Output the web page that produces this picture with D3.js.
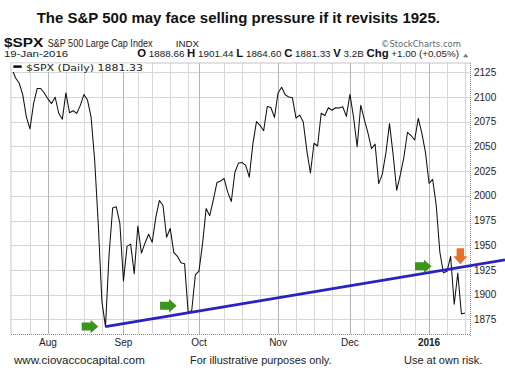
<!DOCTYPE html>
<html><head><meta charset="utf-8">
<script src="https://cdn.jsdelivr.net/npm/d3@7"></script>
<style>
html,body{margin:0;padding:0;background:#fff;}
svg{display:block;font-family:"Liberation Sans",Arial,sans-serif;}
</style>
</head><body>
<svg id="c" width="505" height="378"></svg>
<script>
// ---------- DATA ----------
const tradingMonths = [
  ["2015-07", [20,21,22,23,24,27,28,29,30,31]],
  ["2015-08", [3,4,5,6,7,10,11,12,13,14,17,18,19,20,21,24,25,26,27,28,31]],
  ["2015-09", [1,2,3,4,8,9,10,11,14,15,16,17,18,21,22,23,24,25,28,29,30]],
  ["2015-10", [1,2,5,6,7,8,9,12,13,14,15,16,19,20,21,22,23,26,27,28,29,30]],
  ["2015-11", [2,3,4,5,6,9,10,11,12,13,16,17,18,19,20,23,24,25,27,30]],
  ["2015-12", [1,2,3,4,7,8,9,10,11,14,15,16,17,18,21,22,23,24,28,29,30,31]],
  ["2016-01", [4,5,6,7,8,11,12,13,14,15,19]]
];
const closesJul = [2128.28,2119.21,2114.15,2102.15,2079.65,2067.64,2093.25,2108.57,2108.63,2103.84];
const closesAug = [2098.04,2093.32,2099.84,2083.56,2077.57,2104.18,2084.07,2086.05,2083.39,2091.54,2102.44,2096.92,2079.61,2035.73,1970.89,1893.21,1867.61,1940.51,1987.66,1988.87,1972.18];
const closesSep = [1913.85,1948.86,1951.13,1921.22,1969.41,1942.04,1952.29,1961.05,1953.03,1978.09,1995.31,1990.20,1958.03,1966.97,1942.74,1938.76,1932.24,1931.34,1881.77,1884.09,1920.03];
const closesOct = [1923.82,1951.36,1987.05,1979.92,1995.83,2013.43,2014.89,2017.46,2003.69,1994.24,2023.86,2033.11,2033.66,2030.77,2018.94,2052.51,2075.15,2071.18,2065.89,2090.35,2089.41,2079.36];
const closesNov = [2104.05,2109.79,2102.31,2099.93,2099.20,2078.58,2081.72,2075.00,2045.97,2023.04,2053.19,2050.44,2083.58,2081.24,2089.17,2086.59,2089.14,2088.87,2090.11,2080.41];
const closesDec = [2102.63,2079.51,2049.62,2091.69,2077.07,2063.59,2047.62,2052.23,2012.37,2021.94,2043.41,2073.07,2041.89,2005.55,2021.15,2038.97,2064.29,2060.99,2056.50,2078.36,2063.36,2043.94];
const closesJan = [2012.66,2016.71,1990.26,1943.09,1922.03,1923.67,1938.68,1890.28,1921.84,1880.33,1881.33];
const yTicks = [1875,1900,1925,1950,1975,2000,2025,2050,2075,2100,2125];
// trendline anchors (index of trading day, value)
const trendAnchors = [{i:26, v:1867.61}, {i:49, v:1881.6}];
// annotation arrows: tip position (trading-day index, value)
const greenArrows = [{i:24.0, v:1867.6}, {i:45.8, v:1888.7}, {i:116.7, v:1928.6}];
const orangeArrows = [{i:124.7, v:1930.7}];

const titleText = "The S&P 500 may face selling pressure if it revisits 1925.";
const footerTexts = ["www.ciovaccocapital.com", "For illustrative purposes only.", "Use at own risk."];

// ---------- BUILD ----------
const dates = tradingMonths.flatMap(([m, ds]) => ds.map(d => `${m}-${String(d).padStart(2,"0")}`));
const closes = [].concat(closesJul, closesAug, closesSep, closesOct, closesNov, closesDec, closesJan);
const parse = d3.timeParse("%Y-%m-%d");
const dd = dates.map(parse);
const series = closes.map((v,i) => ({i, v, d: dd[i]}));

const svg = d3.select("#c");
const L = 11, R = 470.5, T = 63, B = 334;
const x = d3.scaleLinear().domain([0, dates.length - 1]).range([12, 465]);
const y = d3.scaleLinear().domain([1875, 2125]).range([319.3, 72.3]);

// gridlines
const monthStarts = [], weekStarts = [];
dd.forEach((d, i) => {
  if (i === 0) return;
  if (d.getMonth() !== dd[i-1].getMonth()) monthStarts.push(i);
});
dd.forEach((d, i) => {
  if (i === 0) return;
  if (+d3.timeMonday.floor(d) !== +d3.timeMonday.floor(dd[i-1])) {
    if (!monthStarts.some(m => Math.abs(m - i) <= 2)) weekStarts.push(i);
  }
});
const g = svg.append("g");
g.selectAll(".hg").data(yTicks).join("line")
  .attr("x1", L).attr("x2", R).attr("y1", d => Math.round(y(d)) + 0.5).attr("y2", d => Math.round(y(d)) + 0.5)
  .attr("stroke", "#d6d6d6").attr("stroke-width", 1);
g.selectAll(".wg").data(weekStarts).join("line")
  .attr("x1", d => Math.round(x(d)) + 0.5).attr("x2", d => Math.round(x(d)) + 0.5).attr("y1", T).attr("y2", B)
  .attr("stroke", "#d8d8d8").attr("stroke-width", 1);
g.selectAll(".mg").data(monthStarts).join("line")
  .attr("x1", d => Math.round(x(d)) + 0.5).attr("x2", d => Math.round(x(d)) + 0.5).attr("y1", T).attr("y2", B)
  .attr("stroke", "#b4b4b4").attr("stroke-width", 1);

// frame
svg.append("line").attr("x1", L).attr("x2", L).attr("y1", T).attr("y2", B).attr("stroke", "#c4c4c4");
svg.append("line").attr("x1", L).attr("x2", R).attr("y1", T).attr("y2", T).attr("stroke", "#c4c4c4");
svg.append("line").attr("x1", R).attr("x2", R).attr("y1", T).attr("y2", B + 3)
  .attr("stroke", "#8a8a8a").attr("stroke-dasharray", "1,1");
svg.append("line").attr("x1", L).attr("x2", R).attr("y1", B + 0.5).attr("y2", B + 0.5)
  .attr("stroke", "#8a8a8a").attr("stroke-dasharray", "1,1");

// price line
svg.append("path").datum(series)
  .attr("d", d3.line().x(d => x(d.i)).y(d => y(d.v)))
  .attr("fill", "none").attr("stroke", "#111").attr("stroke-width", 1.05).attr("stroke-linejoin", "round");

// helper to fit text width
function fit(sel, x0, y0, W, anchor) {
  sel.attr("x", 0).attr("y", 0);
  const w = sel.node().getComputedTextLength();
  const s = W / w;
  sel.attr("transform", `translate(${x0},${y0}) scale(${s},1)`);
  if (anchor) sel.attr("text-anchor", anchor);
  return sel;
}

// legend
svg.append("rect").attr("x", L + 0.5).attr("y", T + 0.5).attr("width", 134).attr("height", 8.5).attr("fill", "#fff");
svg.append("line").attr("x1", 13.3).attr("x2", 21.7).attr("y1", 66.6).attr("y2", 66.6).attr("stroke", "#000").attr("stroke-width", 2.4);
fit(svg.append("text").text("$SPX (Daily) " + closes[closes.length-1].toFixed(2))
  .attr("font-family", "DejaVu Sans").attr("font-size", 9.5).attr("fill", "#222"), 26, 70.6, 117);

// trendline, extended to right edge
const slope = (trendAnchors[1].v - trendAnchors[0].v) / (trendAnchors[1].i - trendAnchors[0].i);
const iEnd = x.invert(505);
const trend = [trendAnchors[0], {i: iEnd, v: trendAnchors[0].v + slope * (iEnd - trendAnchors[0].i)}];
svg.append("path").datum(trend)
  .attr("d", d3.line().x(d => x(d.i)).y(d => y(d.v)))
  .attr("stroke", "#2a22c0").attr("stroke-width", 2.6).attr("fill", "none");

// arrows
const rightArrow = "M0,0 L-7.6,-6.7 L-7.6,-4 L-16.6,-4 L-16.6,4 L-7.6,4 L-7.6,6.7 Z";
const downArrow = "M0,0 L-7,-8 L-3.7,-8 L-3.7,-16 L3.7,-16 L3.7,-8 L7,-8 Z";
svg.selectAll(".ga").data(greenArrows).join("path")
  .attr("d", rightArrow).attr("transform", d => `translate(${x(d.i)},${y(d.v)})`).attr("fill", "#3b961c");
svg.selectAll(".oa").data(orangeArrows).join("path")
  .attr("d", downArrow).attr("transform", d => `translate(${x(d.i)},${y(d.v)})`).attr("fill", "#e8702a");

// y labels
svg.selectAll(".yl").data(yTicks).join("text")
  .attr("x", 474).attr("y", d => y(d)).attr("dy", "0.36em")
  .attr("font-size", 10).attr("fill", "#222").text(d => d);

// x labels
const fmtM = d3.timeFormat("%b"), fmtY = d3.timeFormat("%Y");
svg.selectAll(".xl").data(monthStarts).join("text")
  .attr("x", d => x(d)).attr("y", 345.5).attr("text-anchor", "middle")
  .attr("font-size", 10).attr("fill", "#222")
  .attr("font-weight", d => dd[d].getMonth() === 0 ? "bold" : "normal")
  .text(d => dd[d].getMonth() === 0 ? fmtY(dd[d]) : fmtM(dd[d]));

// title
svg.append("text").attr("x", 238.3).attr("y", 22.7).attr("text-anchor", "middle")
  .attr("font-size", 15).attr("font-weight", "bold").attr("fill", "#111").text(titleText);

// header
fit(svg.append("text").text("$SPX").attr("font-weight", "bold").attr("font-size", 12.5).attr("fill", "#111"), 4, 46.8, 39.3);
fit(svg.append("text").text("S&P 500 Large Cap Index").attr("font-size", 10).attr("fill", "#222"), 47.7, 46.5, 105);
fit(svg.append("text").text("INDX").attr("font-size", 8.5).attr("fill", "#222"), 175.7, 46.5, 23.3);
fit(svg.append("text").text("\u00A9StockCharts.com").attr("font-family", "DejaVu Sans").attr("font-size", 9).attr("fill", "#666"), 381, 46.5, 80);
fit(svg.append("text").text(d3.timeFormat("%d-%b-%Y")(dd[dd.length-1])).attr("font-size", 9.5).attr("fill", "#222"), 4, 57.3, 64.3);
const ohlc = [["O"," 1888.66 "],["H"," 1901.44 "],["L"," 1864.60 "],["C"," 1881.33 "],["V"," 3.2B "],["Chg"," +1.00 (+0.05%)"]];
const t2 = svg.append("text").attr("fill", "#222");
ohlc.forEach(([k, v]) => {
  t2.append("tspan").attr("font-weight", "bold").attr("font-size", 11).attr("fill", "#111").text(k);
  t2.append("tspan").attr("font-size", 9.5).text(v);
});
fit(t2, 137.3, 57.3, 322);
svg.append("path").attr("d", "M463,57.3 L465.7,53.8 L468.4,57.3 Z").attr("fill", "#777");

// footer
const fx = [14, 190, 404], fw = [131, 141.7, 78.3];
footerTexts.forEach((t, k) => {
  fit(svg.append("text").text(t).attr("font-size", 11).attr("fill", "#222"), fx[k], 364, fw[k]);
});
</script>
</body></html>
